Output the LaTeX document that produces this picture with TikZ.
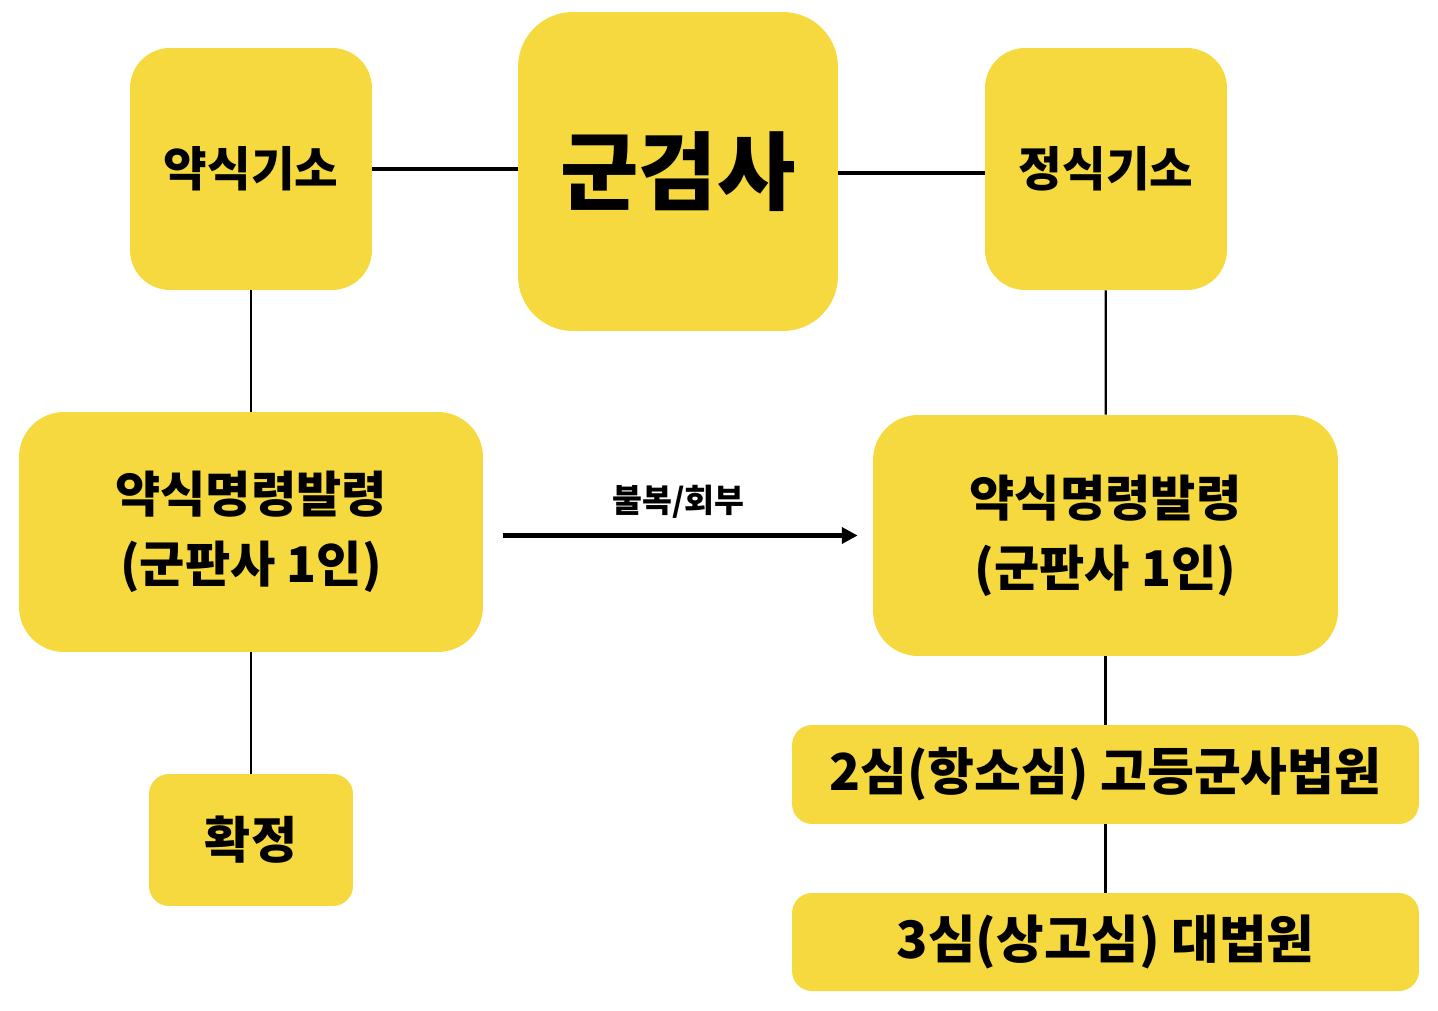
\documentclass[tikz,border=0pt]{standalone}
\usepackage{fontspec}
\setmainfont{Noto Sans CJK KR}
\usetikzlibrary{arrows.meta}
\definecolor{boxyellow}{HTML}{F5D93F}
\tikzset{>/.tip={Triangle[length=9pt,width=9pt]},
  box/.style={fill=boxyellow, inner sep=0pt, align=center, font=\bfseries},
  thick link/.style={line width=2.6pt},
  thin link/.style={line width=1.3pt}}

\begin{document}
\begin{tikzpicture}[x=0.02cm, y=-0.02cm]
\useasboundingbox (0,0) rectangle (1438,1011);
\node[box, minimum width=4.84cm, minimum height=4.84cm, rounded corners=0.8cm, font=\bfseries\fontsize{27}{30}\selectfont] (yak) at (251,169) {약식기소};
\node[box, minimum width=6.4cm, minimum height=6.38cm, rounded corners=1.1cm, font=\bfseries\fontsize{48.5}{52}\selectfont] (gum) at (678,171.5) {군검사};
\node[box, minimum width=4.84cm, minimum height=4.84cm, rounded corners=0.8cm, font=\bfseries\fontsize{27}{30}\selectfont] (jeong) at (1106,169) {정식기소};
\node[box, minimum width=9.28cm, minimum height=4.8cm, rounded corners=0.9cm, font=\bfseries\fontsize{28}{40}\selectfont] (ord1) at (251,532) {약식명령발령\\(군판사 1인)};
\node[box, minimum width=9.3cm, minimum height=4.82cm, rounded corners=0.9cm, font=\bfseries\fontsize{28}{40}\selectfont] (ord2) at (1105.5,535.5) {약식명령발령\\(군판사 1인)};
\node[box, minimum width=4.08cm, minimum height=2.64cm, rounded corners=0.4cm, font=\bfseries\fontsize{28.5}{30}\selectfont] (fin) at (251,840) {확정};
\node[box, minimum width=12.54cm, minimum height=1.98cm, rounded corners=0.4cm, font=\bfseries\fontsize{29}{32}\selectfont] (app2) at (1105.5,774.5) {2심(항소심) 고등군사법원};
\node[box, minimum width=12.54cm, minimum height=1.96cm, rounded corners=0.4cm, font=\bfseries\fontsize{29.4}{32}\selectfont] (app3) at (1105.5,942) {3심(상고심) 대법원};

% top line
\draw[thick link] (yak) to (gum.west |- yak);
\draw[thick link] (gum.east |- 0,173) to (jeong.west |- 0,173);
% downward
\draw[thin link] (yak) to (ord1);
\draw[thin link] (ord1) to (fin);
\draw[thin link] (jeong) to (ord2);
\draw[thin link] (ord2) to (app2);
\draw[thin link] (app2) to (app3);
% appeal
\draw[->, line width=2.8pt, shorten <=0.4cm] (ord1.east |- ord2.west) to node[above=5pt, xshift=0.16cm, font=\bfseries\fontsize{18.5}{20}\selectfont] (appeal) {불복/회부} ([xshift=-0.3cm]ord2.west);
\end{tikzpicture}
\end{document}
